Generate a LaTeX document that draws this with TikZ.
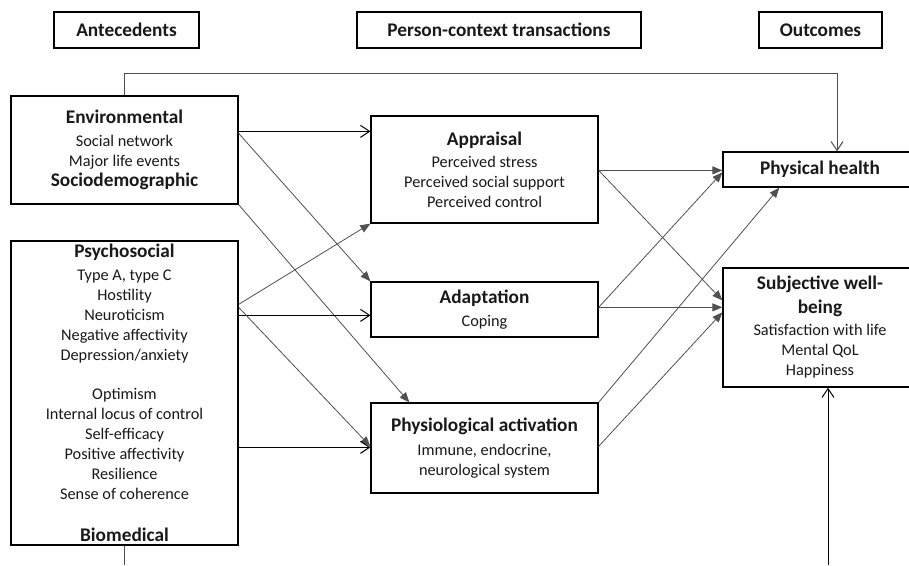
\documentclass[tikz,border=0pt]{standalone}
\usepackage{fontspec}
\setmainfont{Carlito}
\usetikzlibrary{arrows.meta,calc}
\definecolor{conn}{HTML}{505050}
\tikzset{
  box/.style={draw=black,line width=1.3pt,rectangle,inner sep=0pt,align=center,
    font=\fontsize{16.3}{20}\selectfont,text=black!90},
  hdr/.style={box,font=\fontsize{19.3}{22}\selectfont\bfseries},
  thick conn/.style={draw=black,line width=1pt},
  thin conn/.style={draw=conn,line width=0.8pt},
  opentip/.style={-{Straight Barb[length=9pt,width=12pt,line width=1pt]}},
  filltip/.style={-{Triangle[length=10pt,width=8pt]}},
}
\newcommand{\ttl}[1]{{\fontsize{19.3}{20}\selectfont\bfseries #1}}
\begin{document}
\begin{tikzpicture}[x=1pt,y=-1pt]
\useasboundingbox[fill=white] (0,0) rectangle (909,565);
% headers
\node[hdr,minimum width=145pt,minimum height=36pt] (hA) at (126.5,30) {Antecedents};
\node[hdr,minimum width=284pt,minimum height=36pt] (hP) at (499,30) {Person-context transactions};
\node[hdr,minimum width=123pt,minimum height=36pt] (hO) at (820.5,30) {Outcomes};
% left boxes
\node[box,minimum width=227pt,minimum height=108pt] (env) at (124.5,150)
  {\ttl{Environmental}\\[3pt]Social network\\Major life events\\\ttl{Sociodemographic}};
\node[box,minimum width=227pt,minimum height=304pt] (psy) at (124.5,393)
  {\ttl{Psychosocial}\\[3pt]Type A, type C\\Hostility\\Neuroticism\\Negative affectivity\\Depression/anxiety\\[19pt]Optimism\\Internal locus of control\\Self-efficacy\\Positive affectivity\\Resilience\\Sense of coherence\\[22pt]\ttl{Biomedical}};
% middle boxes
\node[box,minimum width=227pt,minimum height=107pt] (app) at (484.5,169.5)
  {\ttl{Appraisal}\\[2pt]Perceived stress\\Perceived social support\\Perceived control};
\node[box,minimum width=227pt,minimum height=55pt] (ada) at (484.5,309.5)
  {\ttl{Adaptation}\\[3pt]Coping};
\node[box,minimum width=227pt,minimum height=90pt] (phy) at (484.5,448)
  {\ttl{Physiological activation}\\[4pt]Immune, endocrine,\\neurological system};
% right boxes
\node[box,minimum width=194pt,minimum height=35pt] (ph) at (820,169.5) {\ttl{Physical health}};
\node[box,minimum width=194pt,minimum height=119pt] (swb) at (820,327.5)
  {\ttl{Subjective well-}\\[4pt]\ttl{being}\\[2pt]Satisfaction with life\\Mental QoL\\Happiness};
% free ends
\coordinate (b1) at (124.5,565);
\coordinate (b2) at (828,565);
% left connectors
\draw[thick conn,opentip] ([yshift=-36pt]env.north east) -- ([yshift=-16pt]app.north west);
\draw[thin conn,filltip] ([yshift=-38pt]env.north east) -- (ada.north west);
\draw[thin conn,filltip] (env.south east) -- ([xshift=39pt]phy.north west);
\draw[thin conn,filltip] ([yshift=-64pt]psy.north east) -- (app.south west);
\draw[thick conn,opentip] ([yshift=-75pt]psy.north east) -- ([yshift=-34pt]ada.north west);
\draw[thin conn,filltip] ([yshift=-67pt]psy.north east) -- ([yshift=-44pt]phy.north west);
\draw[thick conn,opentip] ([yshift=-207pt]psy.north east) -- ([yshift=-45pt]phy.north west);
% right connectors
\draw[thin conn,filltip] ([yshift=-55pt]app.north east) -- ([yshift=-19pt]ph.north west);
\draw[thin conn,filltip] ([yshift=-55pt]app.north east) -- ([yshift=-33pt]swb.north west);
\draw[thin conn,filltip] ([yshift=-26pt]ada.north east) -- ([yshift=-21pt]ph.north west);
\draw[thin conn,filltip] ([yshift=-26pt]ada.north east) -- ([yshift=-40pt]swb.north west);
\draw[thin conn,filltip] (phy.north east) -- ([xshift=57pt]ph.south west);
\draw[thin conn,filltip] ([yshift=-44pt]phy.north east) -- ([yshift=-45pt]swb.north west);
% long connectors
\draw[thin conn,opentip] (env.north) -- ++(0,-22) -| ([xshift=17pt]ph.north);
\draw[thin conn] (psy.south) -- (b1);
\draw[thick conn,opentip] (b2) -- (b2 |- swb.south);
\end{tikzpicture}
\end{document}
